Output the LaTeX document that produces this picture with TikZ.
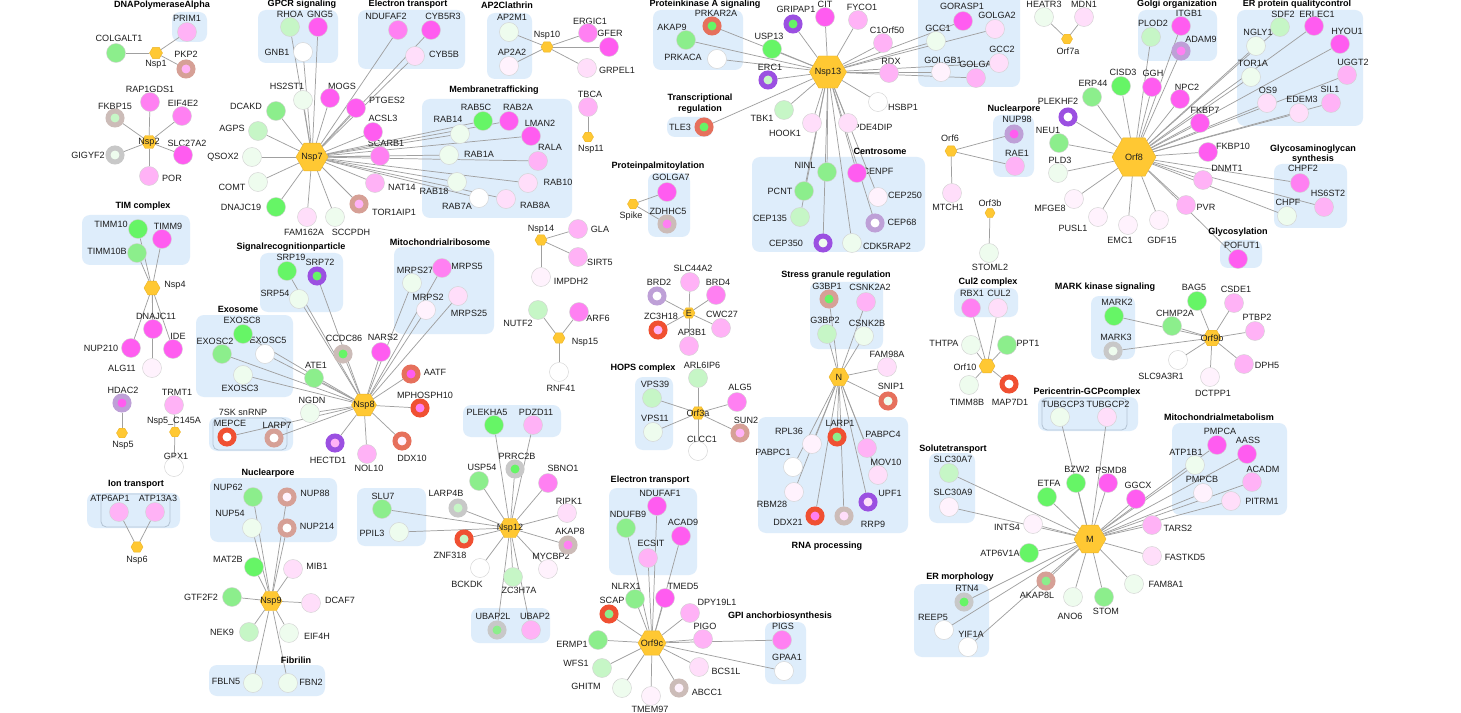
\documentclass[tikz,border=0pt]{standalone}
\usepackage{fontspec}
\setmainfont{Liberation Sans}
\usetikzlibrary{shapes.geometric}
\pgfdeclarelayer{bg}\pgfdeclarelayer{edges}
\pgfsetlayers{bg,edges,main}
\definecolor{G1}{RGB}{102,245,102}
\definecolor{G2}{RGB}{140,238,140}
\definecolor{G3}{RGB}{198,246,198}
\definecolor{G4}{RGB}{238,252,238}
\definecolor{W}{RGB}{255,255,255}
\definecolor{P1}{RGB}{255,92,240}
\definecolor{P2}{RGB}{255,128,242}
\definecolor{P3}{RGB}{255,178,246}
\definecolor{P4}{RGB}{255,222,250}
\definecolor{P5}{RGB}{255,242,253}
\definecolor{Rred}{RGB}{240,80,50}
\definecolor{Rsal}{RGB}{230,112,92}
\definecolor{Rbrn}{RGB}{214,160,150}
\definecolor{Rgbr}{RGB}{204,188,184}
\definecolor{Rgry}{RGB}{200,200,200}
\definecolor{Rpur}{RGB}{155,80,225}
\definecolor{Rlpu}{RGB}{190,160,215}
\definecolor{boxc}{RGB}{222,237,251}
\definecolor{iboxc}{RGB}{180,196,212}
\definecolor{hexc}{RGB}{255,200,51}
\definecolor{hexd}{RGB}{235,180,40}
\definecolor{cstroke}{RGB}{210,210,210}
\definecolor{edgec}{RGB}{160,160,160}
\definecolor{txt}{RGB}{30,30,30}
\tikzset{
 lbl/.style={font=\fontsize{6.8}{8}\selectfont, inner sep=0pt, text=txt},
 ttl/.style={font=\fontsize{6.8}{8}\selectfont\bfseries, inner sep=0pt, text=black, align=center},
 cn/.style={circle, minimum size=14.25pt, inner sep=0pt, fill=#1, draw=cstroke, line width=0.35pt},
 rn/.style 2 args={circle, minimum size=10.5pt, inner sep=0pt, fill=#2, draw=#1, line width=3.75pt},
 hub/.style={regular polygon, regular polygon sides=6, minimum size=#1, inner sep=0pt, fill=hexc, draw=hexd, line width=0.3pt},
 edg/.style={draw=edgec, line width=0.55pt},
 boxs/.style={fill=boxc, rounded corners=6pt},
 ibox/.style={draw=iboxc, line width=0.6pt, rounded corners=4pt},
}
\newcommand\bx[4]{\fill[boxs] (#1,#2) rectangle (#3,#4);}
\newcommand\ibx[4]{\draw[ibox] (#1,#2) rectangle (#3,#4);}
\newcommand\spokes[2]{\foreach \t in {#2} \draw[edg] (#1) -- (\t);}
\newcommand\gn{}\newcommand\hb{}
\newcommand\nodelist{%
% ---------- Nsp1 / Nsp2 ----------
\gn{nsp1}{156}{53}{hub=9.75pt}{156}{64}{Nsp1}
\gn{PRIM1}{187}{32}{cn=P3}{187}{18}{PRIM1}
\gn{COLGALT1}{116}{53}{cn=G2}{119}{38}{COLGALT1}
\gn{PKP2}{186}{69}{rn={Rbrn}{P3}}{186}{54}{PKP2}
\gn{RAP1GDS1}{150}{102}{cn=P2}{150}{89}{RAP1GDS1}
\gn{FKBP15}{115}{118}{rn={Rgbr}{G3}}{115}{106}{FKBP15}
\gn{EIF4E2}{182}{116}{cn=P2}{183}{103}{EIF4E2}
\gn{SLC27A2}{183}{155}{cn=P1}{187}{143}{SLC27A2}
\gn{GIGYF2}{115}{155}{rn={Rgry}{G4}}{88}{155}{GIGYF2}
\gn{POR}{149}{176}{cn=P3}{172}{178}{POR}
\hb{nsp2}{149}{142}{11.25pt}{Nsp2}
% ---------- Nsp4 ----------
\gn{TIMM10}{138}{229}{cn=G1}{111}{224}{TIMM10}
\gn{TIMM9}{162}{239}{cn=P1}{168}{226}{TIMM9}
\gn{TIMM10B}{137}{253}{cn=G2}{107}{251}{TIMM10B}
\gn{nsp4}{152}{288}{hub=12pt}{175}{285}{Nsp4}
\gn{DNAJC11}{153}{329}{cn=P1}{156}{316}{DNAJC11}
\gn{NUP210}{131}{348}{cn=P1}{101}{348}{NUP210}
\gn{IDE}{173}{349}{cn=P1}{178}{336}{IDE}
\gn{ALG11}{152}{368}{cn=P5}{122}{368}{ALG11}
\gn{HDAC2}{122}{403}{rn={Rlpu}{P1}}{123}{390}{HDAC2}
\gn{nsp5}{122}{433}{hub=8.25pt}{123}{445}{Nsp5}
\gn{TRMT1}{174}{405}{cn=P3}{177}{392}{TRMT1}
\gn{nsp5c}{175}{432}{hub=8.25pt}{174}{421}{Nsp5\_C145A}
\gn{GPX1}{174}{467}{cn=W}{176}{456}{GPX1}
\gn{ATP6AP1}{119}{512}{cn=P3}{110}{498}{ATP6AP1}
\gn{ATP13A3}{155}{512}{cn=P3}{158}{498}{ATP13A3}
\gn{nsp6}{137}{547}{hub=9pt}{137}{560}{Nsp6}
% ---------- Nsp7 ----------
\gn{RHOA}{290}{27}{cn=G3}{290}{14}{RHOA}
\gn{GNG5}{318}{27}{cn=P1}{320}{14}{GNG5}
\gn{GNB1}{303}{52}{cn=W}{277}{52}{GNB1}
\gn{HS2ST1}{303}{100}{cn=G4}{287}{86}{HS2ST1}
\gn{MOGS}{330}{98}{cn=P1}{342}{86}{MOGS}
\gn{DCAKD}{276}{111}{cn=G2}{246}{106}{DCAKD}
\gn{AGPS}{258}{131}{cn=G3}{232}{128}{AGPS}
\gn{QSOX2}{252}{157}{cn=G4}{223}{157}{QSOX2}
\gn{COMT}{258}{182}{cn=G4}{232}{187}{COMT}
\gn{DNAJC19}{276}{207}{cn=G1}{241}{207}{DNAJC19}
\gn{FAM162A}{307}{217}{cn=P4}{304}{232}{FAM162A}
\gn{SCCPDH}{335}{217}{cn=G4}{351}{232}{SCCPDH}
\gn{TOR1AIP1}{359}{204}{rn={Rbrn}{P3}}{394}{212}{TOR1AIP1}
\gn{NAT14}{375}{183}{cn=P3}{402}{187}{NAT14}
\gn{SCARB1}{380}{156}{cn=P2}{386}{143}{SCARB1}
\gn{ACSL3}{373}{132}{cn=P1}{383}{118}{ACSL3}
\gn{PTGES2}{356}{108}{cn=P1}{387}{100}{PTGES2}
\gn{NDUFAF2}{398}{30}{cn=P2}{386}{16}{NDUFAF2}
\gn{CYB5R3}{431}{30}{cn=P1}{443}{16}{CYB5R3}
\gn{CYB5B}{415}{56}{cn=P4}{444}{54}{CYB5B}
\gn{RAB5C}{483}{121}{cn=G1}{476}{107}{RAB5C}
\gn{RAB2A}{509}{121}{cn=P1}{518}{107}{RAB2A}
\gn{RAB14}{460}{134}{cn=G4}{448}{119}{RAB14}
\gn{LMAN2}{531}{136}{cn=P1}{540}{123}{LMAN2}
\gn{RAB1A}{449}{155}{cn=G4}{479}{154}{RAB1A}
\gn{RALA}{538}{161}{cn=P3}{550}{147}{RALA}
\gn{RAB18}{457}{182}{cn=G4}{434}{191}{RAB18}
\gn{RAB10}{528}{183}{cn=P4}{558}{182}{RAB10}
\gn{RAB7A}{479}{198}{cn=W}{457}{206}{RAB7A}
\gn{RAB8A}{506}{199}{cn=P4}{535}{205}{RAB8A}
\hb{nsp7}{312}{157}{24pt}{Nsp7}
% ---------- Nsp10 / Nsp11 ----------
\gn{AP2M1}{509}{32}{cn=G4}{512}{17}{AP2M1}
\gn{AP2A2}{509}{66}{cn=P5}{512}{52}{AP2A2}
\gn{nsp10}{547}{47}{hub=9pt}{547}{35}{Nsp10}
\gn{ERGIC1}{588}{33}{cn=P2}{590}{21}{ERGIC1}
\gn{GFER}{609}{47}{cn=P1}{610}{33}{GFER}
\gn{GRPEL1}{587}{68}{cn=P4}{617}{70}{GRPEL1}
\gn{TBCA}{588}{107}{cn=P3}{590}{94}{TBCA}
\gn{nsp11}{588}{137}{hub=8.25pt}{591}{149}{Nsp11}
% ---------- Nsp13 ----------
\gn{PRKAR2A}{712}{26}{rn={Rsal}{G1}}{716}{13.5}{PRKAR2A}
\gn{AKAP9}{686}{40}{cn=G2}{672}{27}{AKAP9}
\gn{PRKACA}{717}{59}{cn=W}{683}{57}{PRKACA}
\gn{GRIPAP1}{793}{24}{rn={Rpur}{G1}}{796}{9}{GRIPAP1}
\gn{CIT}{825}{17}{cn=P1}{825}{4}{CIT}
\gn{FYCO1}{858}{20}{cn=P3}{862}{7}{FYCO1}
\gn{C1Orf50}{883}{43}{cn=P3}{887}{30}{C1Orf50}
\gn{USP13}{772}{49}{cn=G1}{769}{36}{USP13}
\gn{ERC1}{768}{80}{rn={Rpur}{G3}}{770}{67}{ERC1}
\gn{RDX}{889}{73}{cn=P3}{891}{61}{RDX}
\gn{HSBP1}{878}{102}{cn=W}{903}{107}{HSBP1}
\gn{TBK1}{784}{110}{cn=G3}{762}{118}{TBK1}
\gn{HOOK1}{812}{123}{cn=P4}{785}{133}{HOOK1}
\gn{PDE4DIP}{848}{123}{cn=P4}{873}{127}{PDE4DIP}
\gn{TLE3}{704}{127}{rn={Rsal}{G1}}{680}{127}{TLE3}
\gn{NINL}{827}{172}{cn=G2}{805}{165}{NINL}
\gn{CENPF}{857}{173}{cn=P1}{878}{171}{CENPF}
\gn{PCNT}{804}{191}{cn=G2}{780}{191}{PCNT}
\gn{CEP250}{878}{197}{cn=P5}{905}{195}{CEP250}
\gn{CEP135}{800}{217}{cn=G3}{770}{218}{CEP135}
\gn{CEP68}{875}{223}{rn={Rlpu}{W}}{902}{222}{CEP68}
\gn{CEP350}{823}{243}{rn={Rpur}{G4}}{786}{243}{CEP350}
\gn{CDK5RAP2}{852}{243}{cn=G4}{887}{246}{CDK5RAP2}
\gn{GORASP1}{963}{21}{cn=P1}{962}{6}{GORASP1}
\gn{GOLGA2}{995}{29}{cn=P4}{997}{15}{GOLGA2}
\gn{GCC1}{936}{41}{cn=G4}{938}{28}{GCC1}
\gn{GOLGA3}{976}{78}{cn=P3}{978}{64}{GOLGA3}
\gn{GCC2}{999}{63}{cn=P4}{1002}{49}{GCC2}
\gn{GOLGB1}{941}{72}{cn=P5}{943}{60}{GOLGB1}
\hb{nsp13}{828}{72}{27.75pt}{Nsp13}
% ---------- Orf7a / Orf6 / Orf3b ----------
\gn{orf7a}{1067}{39}{hub=8.25pt}{1068}{51}{Orf7a}
\gn{HEATR3}{1044}{17}{cn=G4}{1044}{4}{HEATR3}
\gn{MDN1}{1084}{17}{cn=P4}{1084}{4}{MDN1}
\gn{NUP98}{1014}{134}{rn={Rlpu}{P1}}{1017}{119}{NUP98}
\gn{RAE1}{1015}{166}{cn=P3}{1017}{153}{RAE1}
\gn{orf6}{951}{151}{hub=9pt}{950}{138}{Orf6}
\gn{MTCH1}{952}{193}{cn=P4}{948}{207}{MTCH1}
\gn{orf3b}{990}{213}{hub=7.5pt}{990}{203}{Orf3b}
\gn{STOML2}{989}{253}{cn=G4}{990}{267}{STOML2}
% ---------- Orf8 ----------
\gn{PLOD2}{1151}{37}{cn=G3}{1153}{23}{PLOD2}
\gn{ITGB1}{1181}{26}{cn=P1}{1189}{13.5}{ITGB1}
\gn{ADAM9}{1181}{51}{rn={Rlpu}{P2}}{1201}{39}{ADAM9}
\gn{SDF2}{1280}{27}{cn=G3}{1283}{14}{SDF2}
\gn{ERLEC1}{1314}{26}{cn=P1}{1317}{14}{ERLEC1}
\gn{NGLY1}{1256}{46}{cn=G4}{1258}{32}{NGLY1}
\gn{HYOU1}{1340}{44}{cn=P1}{1347}{31}{HYOU1}
\gn{TOR1A}{1251}{77}{cn=G4}{1253}{63}{TOR1A}
\gn{UGGT2}{1347}{75}{cn=P3}{1353}{62}{UGGT2}
\gn{OS9}{1267}{103}{cn=P4}{1268}{90}{OS9}
\gn{SIL1}{1331}{103}{cn=P3}{1330}{89}{SIL1}
\gn{EDEM3}{1299}{113}{cn=P4}{1302}{99}{EDEM3}
\gn{CISD3}{1121}{86}{cn=G1}{1123}{72}{CISD3}
\gn{ERP44}{1092}{97}{cn=G2}{1093}{83}{ERP44}
\gn{GGH}{1152}{87}{cn=P1}{1153}{73}{GGH}
\gn{NPC2}{1180}{99}{cn=P1}{1187}{87}{NPC2}
\gn{PLEKHF2}{1068}{117}{rn={Rpur}{W}}{1058}{101}{PLEKHF2}
\gn{FKBP7}{1200}{123}{cn=P1}{1205}{110}{FKBP7}
\gn{NEU1}{1059}{143}{cn=G2}{1048}{130}{NEU1}
\gn{PLD3}{1058}{173}{cn=G4}{1060}{160}{PLD3}
\gn{FKBP10}{1208}{152}{cn=P1}{1233}{146}{FKBP10}
\gn{DNMT1}{1203}{180}{cn=P3}{1227}{168}{DNMT1}
\gn{PVR}{1186}{205}{cn=P3}{1206}{207}{PVR}
\gn{MFGE8}{1074}{199}{cn=P5}{1050}{208}{MFGE8}
\gn{PUSL1}{1098}{217}{cn=P5}{1073}{228}{PUSL1}
\gn{EMC1}{1128}{225}{cn=P5}{1120}{240}{EMC1}
\gn{GDF15}{1159}{220}{cn=P5}{1162}{240}{GDF15}
\gn{CHPF2}{1300}{183}{cn=P2}{1303}{168}{CHPF2}
\gn{HS6ST2}{1324}{207}{cn=P3}{1328}{193}{HS6ST2}
\gn{CHPF}{1287}{216}{cn=G4}{1288}{202}{CHPF}
\gn{POFUT1}{1238}{259}{cn=P1}{1242}{245}{POFUT1}
\hb{orf8}{1134}{157}{33pt}{Orf8}
% ---------- Nsp8 ----------
\gn{SRP19}{287}{271}{cn=G1}{291}{257}{SRP19}
\gn{SRP72}{317}{276}{rn={Rpur}{G1}}{320}{262}{SRP72}
\gn{SRP54}{299}{299}{cn=G4}{275}{293}{SRP54}
\gn{EXOSC8}{243}{334}{cn=G1}{242}{320}{EXOSC8}
\gn{EXOSC2}{222}{354}{cn=G2}{215}{341}{EXOSC2}
\gn{EXOSC5}{265}{354}{cn=W}{268}{340}{EXOSC5}
\gn{EXOSC3}{243}{375}{cn=G4}{240}{388}{EXOSC3}
\gn{CCDC86}{343}{354}{rn={Rgbr}{G1}}{344}{338}{CCDC86}
\gn{NARS2}{381}{352}{cn=P1}{383}{337}{NARS2}
\gn{ATE1}{314}{378}{cn=G2}{316}{365}{ATE1}
\gn{NGDN}{310}{413}{cn=G4}{312}{400}{NGDN}
\gn{MEPCE}{227}{437}{rn={Rred}{W}}{230}{423}{MEPCE}
\gn{LARP7}{274}{438}{rn={Rbrn}{W}}{277}{425}{LARP7}
\gn{HECTD1}{335}{443}{rn={Rpur}{P3}}{328}{460}{HECTD1}
\gn{NOL10}{367}{454}{cn=P3}{369}{468}{NOL10}
\gn{MPHOSPH10}{420}{408}{rn={Rred}{P2}}{425}{395}{MPHOSPH10}
\gn{AATF}{411}{374}{rn={Rsal}{P1}}{435}{372}{AATF}
\gn{DDX10}{402}{441}{rn={Rsal}{P5}}{412}{458}{DDX10}
\gn{MRPS27}{412}{283}{cn=G4}{415}{270}{MRPS27}
\gn{MRPS5}{442}{268}{cn=P2}{467}{266}{MRPS5}
\gn{MRPS2}{426}{310}{cn=P5}{428}{297}{MRPS2}
\gn{MRPS25}{458}{296}{cn=P4}{469}{313}{MRPS25}
\hb{nsp8}{364}{405}{18.75pt}{Nsp8}
% ---------- Spike / Nsp14 / Nsp15 / E / Orf3a ----------
\gn{GOLGA7}{667}{192}{cn=P1}{671}{177}{GOLGA7}
\gn{ZDHHC5}{667}{224}{rn={Rgbr}{P2}}{668}{211}{ZDHHC5}
\gn{spike}{633}{204}{hub=8.25pt}{631}{216}{Spike}
\gn{nsp14}{541}{240}{hub=9pt}{541}{229}{Nsp14}
\gn{GLA}{578}{229}{cn=P3}{600}{229}{GLA}
\gn{SIRT5}{578}{257}{cn=P3}{600}{262}{SIRT5}
\gn{IMPDH2}{541}{277}{cn=P5}{571}{281}{IMPDH2}
\gn{nsp15}{559}{338}{hub=9pt}{585}{342}{Nsp15}
\gn{NUTF2}{538}{310}{cn=G3}{518}{323}{NUTF2}
\gn{ARF6}{579}{312}{cn=P2}{598}{318}{ARF6}
\gn{RNF41}{559}{372}{cn=W}{561}{388}{RNF41}
\gn{SLC44A2}{690}{282}{cn=P3}{693}{268}{SLC44A2}
\gn{BRD2}{657}{296}{rn={Rlpu}{W}}{659}{282}{BRD2}
\gn{BRD4}{716}{295}{cn=P2}{718}{282}{BRD4}
\gn{ZC3H18}{658}{330}{rn={Rred}{P3}}{661}{316}{ZC3H18}
\gn{CWC27}{721}{328}{cn=P3}{722}{314}{CWC27}
\gn{AP3B1}{689}{346}{cn=P3}{692}{332}{AP3B1}
\hb{E}{689}{313}{9pt}{E}
\gn{VPS39}{652}{398}{cn=G3}{655}{384}{VPS39}
\gn{VPS11}{653}{432}{cn=G4}{655}{418}{VPS11}
\gn{ARL6IP6}{698}{378}{cn=G3}{702}{365}{ARL6IP6}
\gn{CLCC1}{698}{451}{cn=W}{702}{439}{CLCC1}
\gn{ALG5}{737}{402}{cn=P2}{740}{387}{ALG5}
\gn{SUN2}{740}{433}{rn={Rbrn}{P3}}{746}{420}{SUN2}
\hb{orf3a}{698}{413}{10.5pt}{Orf3a}
% ---------- Nsp12 ----------
\gn{PLEKHA5}{494}{425}{cn=G1}{487}{412}{PLEKHA5}
\gn{PDZD11}{533}{425}{cn=P3}{536}{412}{PDZD11}
\gn{PRRC2B}{515}{469}{rn={Rgry}{G1}}{517}{456}{PRRC2B}
\gn{USP54}{479}{481}{cn=G2}{482}{467}{USP54}
\gn{SBNO1}{548}{483}{cn=P2}{563}{468}{SBNO1}
\gn{RIPK1}{567}{513}{cn=P4}{569}{501}{RIPK1}
\gn{AKAP8}{568}{545}{rn={Rgbr}{P2}}{570}{531}{AKAP8}
\gn{MYCBP2}{548}{569}{cn=P5}{551}{556}{MYCBP2}
\gn{ZC3H7A}{513}{577}{cn=G3}{519}{590}{ZC3H7A}
\gn{BCKDK}{480}{568}{cn=W}{467}{584}{BCKDK}
\gn{ZNF318}{464}{539}{rn={Rred}{G3}}{450}{555}{ZNF318}
\gn{LARP4B}{458}{508}{rn={Rgry}{G3}}{446}{493}{LARP4B}
\gn{SLU7}{382}{509}{cn=G2}{383}{496}{SLU7}
\gn{PPIL3}{399}{532}{cn=G4}{372}{533}{PPIL3}
\gn{UBAP2L}{497}{630}{rn={Rgry}{G2}}{493}{616}{UBAP2L}
\gn{UBAP2}{531}{630}{cn=P3}{535}{616}{UBAP2}
\hb{nsp12}{510}{528}{16.5pt}{Nsp12}
% ---------- Nsp9 ----------
\gn{NUP62}{253}{497}{cn=G2}{228}{487}{NUP62}
\gn{NUP88}{287}{497}{rn={Rbrn}{P5}}{315}{493}{NUP88}
\gn{NUP54}{252}{528}{cn=G4}{230}{513}{NUP54}
\gn{NUP214}{287}{528}{rn={Rbrn}{W}}{317}{526}{NUP214}
\gn{MAT2B}{254}{567}{cn=G1}{228}{559}{MAT2B}
\gn{MIB1}{293}{569}{cn=P4}{317}{566}{MIB1}
\gn{GTF2F2}{232}{597}{cn=G2}{201}{597}{GTF2F2}
\gn{DCAF7}{311}{603}{cn=P4}{340}{600}{DCAF7}
\gn{NEK9}{249}{632}{cn=G3}{222}{632}{NEK9}
\gn{EIF4H}{289}{633}{cn=G4}{317}{636}{EIF4H}
\gn{FBLN5}{253}{683}{cn=G4}{226}{681}{FBLN5}
\gn{FBN2}{288}{683}{cn=G4}{311}{682}{FBN2}
\hb{nsp9}{271}{601}{16.5pt}{Nsp9}
% ---------- Orf9c ----------
\gn{NDUFAF1}{657}{506}{cn=P1}{660}{493}{NDUFAF1}
\gn{NDUFB9}{626}{528}{cn=G2}{628}{514}{NDUFB9}
\gn{ACAD9}{681}{536}{cn=P1}{683}{522}{ACAD9}
\gn{ECSIT}{648}{558}{cn=P3}{651}{543}{ECSIT}
\gn{NLRX1}{635}{599}{cn=G2}{626}{586}{NLRX1}
\gn{TMED5}{665}{598}{cn=P1}{683}{586}{TMED5}
\gn{SCAP}{609}{614}{rn={Rred}{G2}}{612}{600}{SCAP}
\gn{DPY19L1}{690}{613}{cn=P3}{717}{602}{DPY19L1}
\gn{PIGO}{703}{639}{cn=P3}{705}{626}{PIGO}
\gn{ERMP1}{598}{640}{cn=G2}{572}{644}{ERMP1}
\gn{WFS1}{602}{668}{cn=G3}{576}{663}{WFS1}
\gn{BCS1L}{699}{667}{cn=P4}{726}{671}{BCS1L}
\gn{GHITM}{622}{688}{cn=G4}{586}{686}{GHITM}
\gn{ABCC1}{679}{688}{rn={Rgbr}{P5}}{707}{692}{ABCC1}
\gn{TMEM97}{651}{696}{cn=P5}{650}{709}{TMEM97}
\gn{PIGS}{782}{640}{cn=P2}{783}{626}{PIGS}
\gn{GPAA1}{784}{671}{cn=W}{787}{657}{GPAA1}
\hb{orf9c}{652}{643}{21pt}{Orf9c}
% ---------- N ----------
\gn{G3BP1}{829}{299}{rn={Rbrn}{G1}}{827}{286}{G3BP1}
\gn{CSNK2A2}{866}{302}{cn=P3}{870}{287}{CSNK2A2}
\gn{G3BP2}{827}{334}{cn=G3}{825}{320}{G3BP2}
\gn{CSNK2B}{864}{336}{cn=G4}{867}{323}{CSNK2B}
\gn{FAM98A}{887}{367}{cn=P4}{887}{354}{FAM98A}
\gn{SNIP1}{888}{401}{rn={Rsal}{G4}}{891}{386}{SNIP1}
\gn{LARP1}{837}{437}{rn={Rred}{G2}}{840}{423}{LARP1}
\gn{RPL36}{812}{444}{cn=P5}{789}{431}{RPL36}
\gn{PABPC4}{867}{448}{cn=P3}{883}{434}{PABPC4}
\gn{PABPC1}{793}{467}{cn=W}{773}{452}{PABPC1}
\gn{MOV10}{878}{475}{cn=P4}{886}{462}{MOV10}
\gn{RBM28}{794}{492}{cn=P5}{772}{504}{RBM28}
\gn{DDX21}{815}{516}{rn={Rred}{P2}}{788}{522}{DDX21}
\gn{RRP9}{844}{516}{rn={Rgbr}{P4}}{873}{524}{RRP9}
\gn{UPF1}{868}{502}{rn={Rpur}{P4}}{890}{493}{UPF1}
\hb{N}{839}{377}{15pt}{N}
% ---------- Orf10 ----------
\gn{RBX1}{971}{308}{cn=P2}{972}{293}{RBX1}
\gn{CUL2}{998}{308}{cn=P4}{999}{293}{CUL2}
\gn{THTPA}{971}{345}{cn=G4}{944}{343}{THTPA}
\gn{PPT1}{1007}{345}{cn=G2}{1028}{343}{PPT1}
\gn{orf10}{987}{366}{hub=12pt}{965}{367}{Orf10}
\gn{TIMM8B}{969}{385}{cn=G4}{967}{402}{TIMM8B}
\gn{MAP7D1}{1009}{384}{rn={Rred}{W}}{1010}{402}{MAP7D1}
% ---------- Orf9b ----------
\gn{MARK2}{1114}{316}{cn=G1}{1117}{302}{MARK2}
\gn{MARK3}{1113}{351}{rn={Rgry}{G4}}{1116}{337}{MARK3}
\gn{CHMP2A}{1172}{326}{cn=G2}{1175}{313}{CHMP2A}
\gn{BAG5}{1197}{301}{cn=G1}{1194}{287}{BAG5}
\gn{CSDE1}{1234}{303}{cn=P3}{1236}{289}{CSDE1}
\gn{PTBP2}{1255}{331}{cn=P3}{1257}{317}{PTBP2}
\gn{SLC9A3R1}{1178}{360}{cn=W}{1161}{376}{SLC9A3R1}
\gn{DCTPP1}{1210}{377}{cn=P5}{1213}{393}{DCTPP1}
\gn{DPH5}{1244}{364}{cn=P3}{1267}{365}{DPH5}
\hb{orf9b}{1212}{338}{13.5pt}{Orf9b}
% ---------- M ----------
\gn{TUBGCP3}{1060}{417}{cn=G4}{1063}{404}{TUBGCP3}
\gn{TUBGCP2}{1107}{417}{cn=P4}{1108}{404}{TUBGCP2}
\gn{PMPCA}{1217}{445}{cn=P1}{1220}{431}{PMPCA}
\gn{AASS}{1247}{454}{cn=P1}{1248}{440}{AASS}
\gn{ATP1B1}{1195}{465}{cn=G4}{1186}{452}{ATP1B1}
\gn{ACADM}{1252}{482}{cn=P3}{1263}{469}{ACADM}
\gn{PMPCB}{1203}{493}{cn=P5}{1202}{479}{PMPCB}
\gn{PITRM1}{1231}{501}{cn=P4}{1262}{501}{PITRM1}
\gn{BZW2}{1076}{483}{cn=G1}{1077}{469}{BZW2}
\gn{PSMD8}{1108}{483}{cn=P1}{1111}{470}{PSMD8}
\gn{ETFA}{1047}{497}{cn=G1}{1049}{483}{ETFA}
\gn{GGCX}{1136}{499}{cn=P1}{1138}{485}{GGCX}
\gn{INTS4}{1033}{524}{cn=P5}{1007}{527}{INTS4}
\gn{TARS2}{1152}{525}{cn=P3}{1178}{528}{TARS2}
\gn{ATP6V1A}{1029}{553}{cn=G1}{1000}{553}{ATP6V1A}
\gn{FASTKD5}{1152}{556}{cn=P4}{1185}{557}{FASTKD5}
\gn{AKAP8L}{1046}{581}{rn={Rbrn}{G2}}{1037}{595}{AKAP8L}
\gn{FAM8A1}{1134}{584}{cn=G4}{1166}{584}{FAM8A1}
\gn{ANO6}{1073}{597}{cn=G4}{1070}{616}{ANO6}
\gn{STOM}{1104}{597}{cn=G2}{1106}{611}{STOM}
\gn{SLC30A7}{949}{473}{cn=G3}{953}{459}{SLC30A7}
\gn{SLC30A9}{949}{507}{cn=P5}{953}{492}{SLC30A9}
\gn{RTN4}{964}{602}{rn={Rgry}{G1}}{967}{588}{RTN4}
\gn{REEP5}{944}{630}{cn=W}{933}{617}{REEP5}
\gn{YIF1A}{968}{647}{cn=W}{971}{634}{YIF1A}
\hb{M}{1090}{539}{24pt}{M}
}
\begin{document}
\begin{tikzpicture}[x=0.75pt,y=-0.75pt]
\useasboundingbox (0,0) rectangle (1461,713);
\begin{pgfonlayer}{bg}
\fill[white] (0,0) rectangle (1461,713);
\bx{172}{12}{207}{42}
\bx{82}{215}{190}{265}
\bx{87}{493}{180}{528}\ibx{101}{494}{170}{527}
\bx{258}{10}{338}{63}
\bx{358}{10}{465}{69}
\bx{422}{99}{572}{218}
\bx{487}{13}{532}{79}
\bx{653}{10}{743}{70}
\bx{667}{117}{713}{137}
\bx{752}{157}{925}{252}
\bx{918}{-10}{1020}{87}
\bx{1138}{10}{1217}{61}
\bx{1237}{10}{1363}{126}
\bx{1274}{164}{1347}{228}
\bx{1220}{240}{1262}{268}
\bx{993}{115}{1034}{177}
\bx{260}{253}{343}{312}
\bx{196}{315}{293}{397}
\bx{209}{417}{293}{451}\ibx{213}{418}{287}{450}
\bx{394}{247}{494}{334}
\bx{648}{173}{690}{237}
\bx{635}{377}{673}{450}
\bx{463}{405}{561}{437}
\bx{357}{488}{426}{546}
\bx{471}{608}{550}{643}
\bx{210}{478}{337}{542}
\bx{209}{665}{325}{696}
\bx{609}{488}{697}{575}
\bx{765}{622}{806}{684}
\bx{810}{282}{883}{349}
\bx{758}{417}{908}{533}
\bx{954}{288}{1018}{317}
\bx{1091}{296}{1135}{359}
\bx{1038}{397}{1138}{431}\ibx{1042}{398}{1127}{430}
\bx{1172}{423}{1287}{515}
\bx{929}{453}{975}{523}
\bx{914}{584}{989}{657}
\end{pgfonlayer}
% ---------- titles ----------
\node[ttl] (tdna) at (162,5) {DNAPolymeraseAlpha};
\node[ttl] (ttim) at (143,206) {TIM complex};
\node[ttl] (tion) at (136,484) {Ion transport};
\node[ttl] (tgpcr) at (302,4.5) {GPCR signaling};
\node[ttl] (tet1) at (408,4.5) {Electron transport};
\node[ttl] (tmem) at (494,90) {Membranetrafficking};
\node[ttl] (tap2) at (507,5) {AP2Clathrin};
\node[ttl] (tpka) at (705,4.5) {Proteinkinase A signaling};
\node[ttl] (ttr) at (700,104) {Transcriptional\\regulation};
\node[ttl] (tcen) at (880,151) {Centrosome};
\node[ttl] (tgo) at (1177,4.5) {Golgi organization};
\node[ttl] (terq) at (1297,4.5) {ER protein qualitycontrol};
\node[ttl] (tgag) at (1313,154) {Glycosaminoglycan\\synthesis};
\node[ttl] (tgly) at (1238,232) {Glycosylation};
\node[ttl] (tnp2) at (1014,109) {Nuclearpore};
\node[ttl] (tsrp) at (291,247) {Signalrecognitionparticle};
\node[ttl] (texo) at (238,309) {Exosome};
\node[lbl] (t7sk) at (243,412) {7SK snRNP};
\node[ttl] (tmr) at (440,242) {Mitochondrialribosome};
\node[ttl] (tpp) at (658,166) {Proteinpalmitoylation};
\node[ttl] (thops) at (643,368) {HOPS complex};
\node[ttl] (tnp3) at (268,473) {Nuclearpore};
\node[ttl] (tfib) at (296,660) {Fibrilin};
\node[ttl] (tet2) at (650,480) {Electron transport};
\node[ttl] (tgpi) at (780,616) {GPI anchorbiosynthesis};
\node[ttl] (tsg) at (836,275) {Stress granule regulation};
\node[ttl] (trna) at (827,546) {RNA processing};
\node[ttl] (tcul) at (988,282) {Cul2 complex};
\node[ttl] (tmark) at (1105,287) {MARK kinase signaling};
\node[ttl] (tperi) at (1087,392) {Pericentrin-GCPcomplex};
\node[ttl] (tmm) at (1219,417) {Mitochondrialmetabolism};
\node[ttl] (tsol) at (953,449) {Solutetransport};
\node[ttl] (term) at (960,577) {ER morphology};
% ---------- labels first, then nodes ----------
\renewcommand\gn[7]{\node[lbl] (#1l) at (#5,#6) {#7};}
\renewcommand\hb[5]{}
\nodelist
\renewcommand\gn[7]{\node[#4] (#1) at (#2,#3) {};}
\renewcommand\hb[5]{\node[hub=#4] (#1) at (#2,#3) {};\node[lbl] (#1l) at (#1) {#5};}
\nodelist
% ---------- edges ----------
\begin{pgfonlayer}{edges}
\spokes{nsp1}{COLGALT1,PRIM1,PKP2}
\spokes{nsp2}{RAP1GDS1,FKBP15,EIF4E2,SLC27A2,GIGYF2,POR}
\spokes{nsp4}{TIMM10,TIMM9,TIMM10B,DNAJC11,NUP210,IDE,ALG11}
\spokes{nsp5}{HDAC2}
\spokes{nsp5c}{TRMT1,GPX1}
\spokes{nsp6}{ATP6AP1,ATP13A3}
\spokes{nsp7}{RHOA,GNG5,GNB1,HS2ST1,MOGS,DCAKD,AGPS,QSOX2,COMT,DNAJC19,FAM162A,SCCPDH,TOR1AIP1,NAT14,SCARB1,ACSL3,PTGES2,NDUFAF2,CYB5R3,CYB5B,RAB5C,RAB2A,RAB14,LMAN2,RAB1A,RALA,RAB18,RAB10,RAB7A,RAB8A}
\spokes{nsp8}{SRP19,SRP72,SRP54,CCDC86,NARS2,MRPS27,MRPS5,MRPS2,MRPS25,EXOSC8,EXOSC2,EXOSC5,EXOSC3,ATE1,NGDN,MEPCE,LARP7,HECTD1,NOL10,DDX10,MPHOSPH10,AATF}
\spokes{nsp9}{NUP62,NUP88,NUP54,NUP214,MAT2B,MIB1,GTF2F2,DCAF7,NEK9,EIF4H,FBLN5,FBN2}
\spokes{nsp10}{AP2M1,AP2A2,ERGIC1,GFER,GRPEL1}
\spokes{nsp11}{TBCA}
\spokes{nsp12}{USP54,PRRC2B,SBNO1,RIPK1,AKAP8,MYCBP2,ZC3H7A,BCKDK,ZNF318,LARP4B,SLU7,PPIL3,PLEKHA5,PDZD11,UBAP2L,UBAP2}
\spokes{nsp13}{PRKAR2A,AKAP9,PRKACA,GRIPAP1,CIT,FYCO1,C1Orf50,USP13,ERC1,TLE3,GORASP1,GOLGA2,GCC1,GCC2,GOLGB1,GOLGA3,RDX,HSBP1,TBK1,HOOK1,PDE4DIP,NINL,CENPF,PCNT,CEP250,CEP135,CEP68,CEP350,CDK5RAP2}
\spokes{nsp14}{GLA,SIRT5,IMPDH2}
\spokes{nsp15}{NUTF2,ARF6,RNF41}
\spokes{E}{SLC44A2,BRD2,BRD4,ZC3H18,CWC27,AP3B1}
\spokes{orf3a}{VPS39,VPS11,ARL6IP6,CLCC1,ALG5,SUN2}
\spokes{spike}{GOLGA7,ZDHHC5}
\spokes{N}{G3BP1,CSNK2A2,G3BP2,CSNK2B,FAM98A,SNIP1,LARP1,RPL36,PABPC4,PABPC1,MOV10,RBM28,DDX21,RRP9,UPF1}
\spokes{orf6}{NUP98,RAE1,MTCH1}
\spokes{orf3b}{STOML2}
\spokes{orf7a}{HEATR3,MDN1}
\spokes{orf8}{ERP44,CISD3,GGH,NPC2,PLEKHF2,NEU1,PLD3,MFGE8,PUSL1,EMC1,GDF15,PVR,FKBP10,DNMT1,FKBP7,PLOD2,ITGB1,ADAM9,SDF2,ERLEC1,NGLY1,HYOU1,TOR1A,UGGT2,OS9,SIL1,EDEM3,CHPF2,HS6ST2,CHPF,POFUT1}
\spokes{orf10}{RBX1,CUL2,THTPA,PPT1,TIMM8B,MAP7D1}
\spokes{orf9b}{MARK2,MARK3,CHMP2A,BAG5,CSDE1,PTBP2,DPH5,DCTPP1,SLC9A3R1}
\spokes{orf9c}{NDUFAF1,NDUFB9,ACAD9,ECSIT,NLRX1,TMED5,SCAP,DPY19L1,PIGO,ERMP1,WFS1,BCS1L,GHITM,ABCC1,TMEM97,PIGS,GPAA1}
\spokes{M}{BZW2,PSMD8,ETFA,GGCX,INTS4,TARS2,ATP6V1A,FASTKD5,AKAP8L,FAM8A1,ANO6,STOM,SLC30A7,SLC30A9,RTN4,REEP5,YIF1A,TUBGCP3,TUBGCP2,PMPCA,AASS,ATP1B1,ACADM,PMPCB,PITRM1}
\end{pgfonlayer}
\end{tikzpicture}
\end{document}
